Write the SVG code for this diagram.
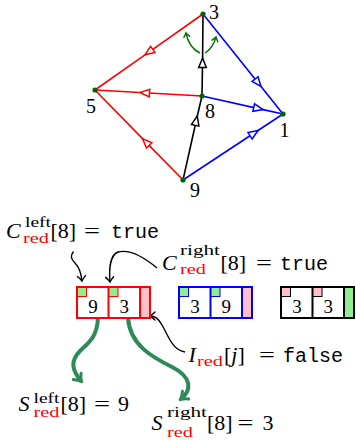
<svg xmlns="http://www.w3.org/2000/svg" width="356" height="441" viewBox="0 0 356 441">
<style>
.t{font-family:"Liberation Serif","DejaVu Serif",serif;font-size:22px;fill:#000}
.it{font-style:italic}
.sc{font-family:"Liberation Serif","DejaVu Serif",serif;font-size:14px}
.tt{font-family:"Liberation Mono","DejaVu Sans Mono",monospace;font-size:20px}
.lab{font-family:"Liberation Serif","DejaVu Serif",serif;font-size:20px}
.num{font-family:"Liberation Serif","DejaVu Serif",serif;font-size:19px;text-anchor:middle}
.e{fill:none;stroke-width:1.6}
.r{stroke:#ff0000;marker-mid:url(#ar)}
.b{stroke:#0000ff;marker-mid:url(#ab)}
.k{stroke:#000;marker-mid:url(#ak)}
.dot{fill:#006400}
.box{fill:#fff;stroke-width:2}
.sq{stroke-width:1}
</style>
<defs>
<marker id="ar" markerUnits="userSpaceOnUse" orient="auto" overflow="visible" markerWidth="1" markerHeight="1"><path d="M0,0 L-9.5,-3.8 L-9.5,3.8 Z" fill="#fff" stroke="#ff0000" stroke-width="1.5"/></marker>
<marker id="ab" markerUnits="userSpaceOnUse" orient="auto" overflow="visible" markerWidth="1" markerHeight="1"><path d="M0,0 L-9.5,-3.8 L-9.5,3.8 Z" fill="#fff" stroke="#0000ff" stroke-width="1.5"/></marker>
<marker id="ak" markerUnits="userSpaceOnUse" orient="auto" overflow="visible" markerWidth="1" markerHeight="1"><path d="M0,0 L-9.5,-3.8 L-9.5,3.8 Z" fill="#fff" stroke="#000" stroke-width="1.5"/></marker>
<marker id="tg" markerUnits="userSpaceOnUse" orient="auto" overflow="visible" markerWidth="1" markerHeight="1"><path d="M-4,-3 Q-1.5,-0.8 0,0 Q-1.5,0.8 -4,3" fill="none" stroke="#007000" stroke-width="1.4" stroke-linecap="round"/></marker>
<marker id="tk" markerUnits="userSpaceOnUse" orient="auto" overflow="visible" markerWidth="1" markerHeight="1"><path d="M-5,-4 Q-2,-1 0,0 Q-2,1 -5,4" fill="none" stroke="#000" stroke-width="1.4" stroke-linecap="round"/></marker>
<marker id="tG" markerUnits="userSpaceOnUse" orient="auto" overflow="visible" markerWidth="1" markerHeight="1"><path d="M-6,-5 Q-2.5,-1.2 1,0 Q-2.5,1.2 -6,5" fill="none" stroke="#2e8b57" stroke-width="3" stroke-linecap="round" stroke-linejoin="round"/></marker>
</defs>

<g id="connectors">
<polyline class="e r" points="203,14 145,54.8 95,90"/>
<polyline class="e r" points="202,96 140,92.5 95,90"/>
<polyline class="e r" points="183,180 142.5,138.6 95,90"/>
<polyline class="e b" points="203,14 261,86.5 283,114"/>
<polyline class="e b" points="202,96 263,109.6 283,114"/>
<polyline class="e b" points="183,180 258,130.5 283,114"/>
<polyline class="e k" points="183,180 197.3,116 202,96"/>
<polyline class="e k" points="202,96 202.6,58 203,14"/>
<path d="M200,53 Q189,48 186,33" fill="none" stroke="#007000" stroke-width="1.4" marker-end="url(#tg)"/>
<path d="M205,53 Q213,48 216,37" fill="none" stroke="#007000" stroke-width="1.4" marker-end="url(#tg)"/>
<path d="M73.5,251.5 C70,256 71,259 75,263 C79,267 81,272 82,281" fill="none" stroke="#000" stroke-width="1.4" marker-end="url(#tk)"/>
<path d="M157,268 C145,258 130,249 118,252 C110,255 109,270 110,282" fill="none" stroke="#000" stroke-width="1.4" marker-end="url(#tk)"/>
<path d="M185,352 C172,350 168,335 162,325 C158,318 155,316 150,316" fill="none" stroke="#000" stroke-width="1.4" marker-end="url(#tk)"/>
<path d="M98,318 C97,338 88,343 80,351 C70,361 72,370 81,381" fill="none" stroke="#2e8b57" stroke-width="4" marker-end="url(#tG)"/>
<path d="M128,318 C130,345 152,357 172,367 C192,377 192,390 181,399" fill="none" stroke="#2e8b57" stroke-width="4" marker-end="url(#tG)"/>
</g>

<g id="n3"><circle class="dot" cx="203" cy="14" r="2.6"/><text class="lab" x="209" y="18.5">3</text></g>
<g id="n5"><circle class="dot" cx="95" cy="90" r="2.6"/><text class="lab" x="86" y="113">5</text></g>
<g id="n8"><circle class="dot" cx="202" cy="96" r="2.6"/><text class="lab" x="205" y="118">8</text></g>
<g id="n1"><circle class="dot" cx="283" cy="114" r="2.6"/><text class="lab" x="279.5" y="136.5">1</text></g>
<g id="n9"><circle class="dot" cx="183" cy="180" r="2.6"/><text class="lab" x="190" y="196.5">9</text></g>

<g id="box-red">
<rect class="box" x="77" y="287" width="73" height="31" stroke="#ff0000"/>
<rect x="140" y="287" width="10" height="31" fill="#ffc0cb" stroke="#ff0000" stroke-width="2"/>
<line x1="108.5" y1="287" x2="108.5" y2="318" stroke="#ff0000" stroke-width="2"/>
<rect class="sq" x="77.5" y="287.5" width="9" height="9" fill="#90ee90" stroke="#ff0000"/>
<rect class="sq" x="109" y="287.5" width="9" height="9" fill="#90ee90" stroke="#ff0000"/>
<text class="num" x="93" y="312.5">9</text>
<text class="num" x="124.3" y="312.5">3</text>
</g>
<g id="box-blue">
<rect class="box" x="179" y="287" width="73" height="31" stroke="#0000ff"/>
<rect x="242" y="287" width="10" height="31" fill="#ffc0cb" stroke="#0000ff" stroke-width="2"/>
<line x1="210.5" y1="287" x2="210.5" y2="318" stroke="#0000ff" stroke-width="2"/>
<rect class="sq" x="179.5" y="287.5" width="9" height="9" fill="#90ee90" stroke="#0000ff"/>
<rect class="sq" x="211" y="287.5" width="9" height="9" fill="#90ee90" stroke="#0000ff"/>
<text class="num" x="195" y="312.5">3</text>
<text class="num" x="226.3" y="312.5">9</text>
</g>
<g id="box-black">
<rect class="box" x="281" y="287" width="73" height="31" stroke="#000"/>
<rect x="344" y="287" width="10" height="31" fill="#90ee90" stroke="#000" stroke-width="2"/>
<line x1="312.5" y1="287" x2="312.5" y2="318" stroke="#000" stroke-width="2"/>
<rect class="sq" x="281.5" y="287.5" width="9" height="9" fill="#ffc0cb" stroke="#000"/>
<rect class="sq" x="313" y="287.5" width="9" height="9" fill="#ffc0cb" stroke="#000"/>
<text class="num" x="297" y="312.5">3</text>
<text class="num" x="328.3" y="312.5">3</text>
</g>

<g id="label-cleft">
<text class="t it" x="6" y="238">C</text>
<text class="sc" x="25" y="227" textLength="26" lengthAdjust="spacingAndGlyphs">left</text>
<text class="sc" x="23" y="243" fill="#ff0000" textLength="26" lengthAdjust="spacingAndGlyphs">red</text>
<text class="t" x="50.5" y="238">[8]</text>
<text class="t" x="84" y="238" textLength="16" lengthAdjust="spacingAndGlyphs">=</text>
<text class="tt" x="111" y="238">true</text>
</g>
<g id="label-cright">
<text class="t it" x="162" y="270">C</text>
<text class="sc" x="180" y="255" textLength="40" lengthAdjust="spacingAndGlyphs">right</text>
<text class="sc" x="180" y="274" fill="#ff0000" textLength="26" lengthAdjust="spacingAndGlyphs">red</text>
<text class="t" x="220.5" y="270">[8]</text>
<text class="t" x="256" y="270" textLength="16" lengthAdjust="spacingAndGlyphs">=</text>
<text class="tt" x="280" y="270">true</text>
</g>
<g id="label-ired">
<text class="t it" x="188.5" y="362">I</text>
<text class="sc" x="197" y="366" fill="#ff0000" textLength="26" lengthAdjust="spacingAndGlyphs">red</text>
<text class="t" x="224" y="362">[<tspan class="it">j</tspan>]</text>
<text class="t" x="259" y="362" textLength="16" lengthAdjust="spacingAndGlyphs">=</text>
<text class="tt" x="283" y="362">false</text>
</g>
<g id="label-sleft">
<text class="t it" x="18.5" y="410.5">S</text>
<text class="sc" x="33.5" y="403" textLength="26" lengthAdjust="spacingAndGlyphs">left</text>
<text class="sc" x="33.5" y="416.5" fill="#ff0000" textLength="26" lengthAdjust="spacingAndGlyphs">red</text>
<text class="t" x="60.5" y="410.5">[8]</text>
<text class="t" x="94" y="410.5" textLength="16" lengthAdjust="spacingAndGlyphs">=</text>
<text class="t" x="118" y="410.5">9</text>
</g>
<g id="label-sright">
<text class="t it" x="151.5" y="430">S</text>
<text class="sc" x="167" y="417" textLength="40" lengthAdjust="spacingAndGlyphs">right</text>
<text class="sc" x="167" y="436.5" fill="#ff0000" textLength="26" lengthAdjust="spacingAndGlyphs">red</text>
<text class="t" x="207" y="430">[8]</text>
<text class="t" x="237.5" y="430" textLength="16" lengthAdjust="spacingAndGlyphs">=</text>
<text class="t" x="262.5" y="430">3</text>
</g>
</svg>
